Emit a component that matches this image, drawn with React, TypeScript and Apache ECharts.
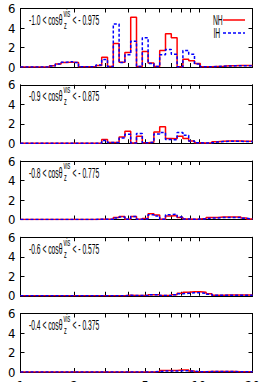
import { useEffect, useRef } from "react";
import * as echarts from "echarts";

// Bin edges: 40 log-uniform bins from 1 to 20 (visible energy)
const binEdges: number[] = Array.from({ length: 41 }, (_, k) => Math.pow(20, k / 40));

const xTickValues = [2, 3, 4, 5, 6, 7, 8, 9, 10];
const xLabelValues = [1, 2, 5, 10, 20];

const lowerBounds = ["-1.0", "-0.9", "-0.8", "-0.6", "-0.4"];
const upperBounds = ["- 0.975", "- 0.875", "- 0.775", "- 0.575", "- 0.375"];

const nh1 = [0, 0, 0, 0, 0, 0.12, 0.3, 0.45, 0.5, 0.45, 0.02, 0.02, 0.05, 0.15, 1.0, 0.05, 2.4, 0.5, 1.5, 5.1, 0.05, 1.6, 0.4, 0.05, 1.7, 3.4, 3.0, 0.02, 0.8, 0.65, 0.35, 0.02, 0.02, 0.05, 0.08, 0.12, 0.13, 0.15, 0.15, 0.15];
const ih1 = [0, 0, 0, 0, 0, 0.1, 0.3, 0.5, 0.55, 0.45, 0.02, 0.02, 0.05, 0.2, 0.78, 0.05, 4.4, 0.45, 1.25, 2.65, 0.05, 3.0, 0.35, 0.05, 1.25, 1.8, 1.3, 0.02, 1.7, 1.3, 0.3, 0.02, 0.02, 0.05, 0.08, 0.1, 0.12, 0.13, 0.13, 0.13];

const nh2 = [0, 0, 0, 0, 0, 0, 0, 0, 0, 0, 0, 0, 0, 0.02, 0.38, 0.08, 0.08, 0.65, 1.23, 0.02, 0.72, 0.05, 0.1, 1.16, 1.68, 0.48, 0.45, 0.72, 0.48, 0.24, 0.05, 0.02, 0.05, 0.15, 0.2, 0.22, 0.22, 0.22, 0.2, 0.2];
const ih2 = [0, 0, 0, 0, 0, 0, 0, 0, 0, 0, 0, 0, 0, 0.02, 0.27, 0.08, 0.08, 0.55, 0.92, 0.02, 1.0, 0.05, 0.1, 0.96, 1.1, 0.38, 0.35, 1.1, 0.82, 0.24, 0.05, 0.02, 0.05, 0.12, 0.18, 0.2, 0.2, 0.2, 0.18, 0.18];

const nh3 = [0, 0, 0, 0, 0, 0, 0, 0, 0, 0, 0, 0, 0, 0.03, 0.03, 0.02, 0.2, 0.3, 0.02, 0.3, 0.02, 0.1, 0.58, 0.45, 0.03, 0.35, 0.4, 0.2, 0.05, 0.02, 0.05, 0.1, 0.2, 0.2, 0.25, 0.25, 0.25, 0.25, 0.15, 0.05];
const ih3 = [0, 0, 0, 0, 0, 0, 0, 0, 0, 0, 0, 0, 0, 0.03, 0.03, 0.02, 0.15, 0.25, 0.02, 0.3, 0.02, 0.08, 0.48, 0.35, 0.03, 0.5, 0.55, 0.25, 0.05, 0.02, 0.05, 0.08, 0.15, 0.15, 0.2, 0.2, 0.2, 0.2, 0.12, 0.05];

const nh4 = [0, 0, 0, 0, 0, 0, 0, 0, 0, 0, 0, 0, 0, 0, 0, 0, 0, 0, 0.05, 0.02, 0.02, 0.02, 0.1, 0.1, 0.02, 0.02, 0.1, 0.25, 0.35, 0.4, 0.4, 0.35, 0.2, 0.05, 0.05, 0.07, 0.07, 0.07, 0.07, 0.07];
const ih4 = [0, 0, 0, 0, 0, 0, 0, 0, 0, 0, 0, 0, 0, 0, 0, 0, 0, 0, 0.05, 0.02, 0.02, 0.02, 0.1, 0.1, 0.02, 0.02, 0.1, 0.2, 0.25, 0.3, 0.3, 0.25, 0.15, 0.05, 0.05, 0.06, 0.06, 0.06, 0.06, 0.06];

const nh5 = [0, 0, 0, 0, 0, 0, 0, 0, 0, 0, 0, 0, 0, 0, 0, 0, 0, 0, 0, 0, 0, 0, 0, 0.05, 0.15, 0.15, 0.15, 0.2, 0.2, 0.1, 0.02, 0.02, 0.05, 0.05, 0.05, 0.05, 0.05, 0.02, 0.02, 0.02];
const ih5 = [0, 0, 0, 0, 0, 0, 0, 0, 0, 0, 0, 0, 0, 0, 0, 0, 0, 0, 0, 0, 0, 0, 0, 0.05, 0.1, 0.1, 0.1, 0.12, 0.12, 0.08, 0.02, 0.02, 0.04, 0.04, 0.04, 0.04, 0.04, 0.02, 0.02, 0.02];

const nhPanels = [nh1, nh2, nh3, nh4, nh5];
const ihPanels = [ih1, ih2, ih3, ih4, ih5];

const W = 266;
const H = 382;
const GRID_LEFT = 20.5;
const GRID_WIDTH = 232;
const FIRST_TOP = 8.5;
const PANEL_STEP = 76.25;
const PANEL_H = 58.5;
const LABEL_FONT = '"Liberation Sans Narrow", "DejaVu Sans Condensed", "Liberation Sans", sans-serif';
const TEXT_FONT = '"Liberation Sans", Arial, sans-serif';
const SCALE_X = 0.48;

function toSteps(vals: number[]) {
  return binEdges.map((e, i) => [e, vals[Math.min(i, vals.length - 1)]]);
}

function textEl(text: string, x: number, y: number, size: number, scaleX: number) {
  return {
    type: "text",
    x,
    y,
    scaleX,
    silent: true,
    style: {
      text,
      fill: "#000",
      font: `${size}px ${TEXT_FONT}`,
      align: "left",
      textAlign: "left",
      verticalAlign: "middle",
      textVerticalAlign: "middle",
    },
  };
}

export default function App() {
  const ref = useRef<HTMLDivElement>(null);

  useEffect(() => {
    if (!ref.current) return;
    const chart = echarts.init(ref.current, undefined, { renderer: "svg" });

    const grids: any[] = [];
    const xAxes: any[] = [];
    const yAxes: any[] = [];
    const series: any[] = [];
    const graphics: any[] = [];
    const black = { color: "#000", width: 1 };

    for (let i = 0; i < 5; i++) {
      const top = FIRST_TOP + PANEL_STEP * i;
      grids.push({
        left: GRID_LEFT,
        top,
        width: GRID_WIDTH,
        height: PANEL_H,
        containLabel: false,
        outerBoundsMode: "none",
      });
      for (const pos of ["bottom", "top"]) {
        xAxes.push({
          type: "log",
          logBase: 10,
          gridIndex: i,
          position: pos,
          min: 1,
          max: 20,
          axisLine: { show: true, onZero: false, lineStyle: black },
          axisTick: { show: true, inside: true, length: 4, customValues: xTickValues, lineStyle: black },
          minorTick: { show: false },
          splitLine: { show: false },
          axisLabel: {
            show: pos === "bottom" && i === 4,
            customValues: xLabelValues,
            margin: 7,
            fontSize: 13,
            fontFamily: LABEL_FONT,
            color: "#000",
          },
        });
      }
      for (const pos of ["left", "right"]) {
        yAxes.push({
          type: "value",
          gridIndex: i,
          position: pos,
          min: 0,
          max: 6,
          interval: 2,
          axisLine: { show: true, onZero: false, lineStyle: black },
          axisTick: { show: true, inside: true, length: 4, lineStyle: black },
          splitLine: { show: false },
          axisLabel: {
            show: pos === "left",
            margin: 5,
            fontSize: 13,
            fontFamily: LABEL_FONT,
            color: "#000",
          },
        });
      }
      series.push({
        name: "NH",
        type: "line",
        xAxisIndex: 2 * i,
        yAxisIndex: 2 * i,
        step: "end",
        symbol: "none",
        data: toSteps(nhPanels[i]),
        lineStyle: { color: "#ff0000", width: 1.5 },
        itemStyle: { color: "#ff0000" },
        z: 2,
      });
      series.push({
        name: "IH",
        type: "line",
        xAxisIndex: 2 * i,
        yAxisIndex: 2 * i,
        step: "end",
        symbol: "none",
        data: toSteps(ihPanels[i]),
        lineStyle: { color: "#0000ff", width: 1.5, type: [3, 2] },
        itemStyle: { color: "#0000ff" },
        z: 3,
      });

      const ty = top + 11.5;
      graphics.push(textEl(`${lowerBounds[i]} < cosθ`, 29, ty, 14, SCALE_X));
      graphics.push(textEl("vis", 63.5, ty - 7, 11, 0.5));
      graphics.push(textEl("z", 64, ty + 5, 11, 0.5));
      graphics.push(textEl(`< ${upperBounds[i]}`, 72.5, ty, 14, SCALE_X));
    }

    // legend (panel 1)
    graphics.push(textEl("NH", 213, 20, 14, 0.48));
    graphics.push({
      type: "line",
      silent: true,
      shape: { x1: 223, y1: 20, x2: 245, y2: 20 },
      style: { stroke: "#ff0000", lineWidth: 1.5 },
    });
    graphics.push(textEl("IH", 213.5, 33, 14, 0.48));
    graphics.push({
      type: "line",
      silent: true,
      shape: { x1: 223, y1: 33, x2: 245, y2: 33 },
      style: { stroke: "#0000ff", lineWidth: 1.5, lineDash: [3, 2] },
    });

    chart.setOption({
      animation: false,
      backgroundColor: "#fff",
      grid: grids,
      xAxis: xAxes,
      yAxis: yAxes,
      series,
      graphic: { elements: graphics },
    });

    return () => chart.dispose();
  }, []);

  return (
    <div
      ref={ref}
      style={{ position: "fixed", left: 0, top: 0, width: W, height: H, background: "#fff" }}
    />
  );
}
